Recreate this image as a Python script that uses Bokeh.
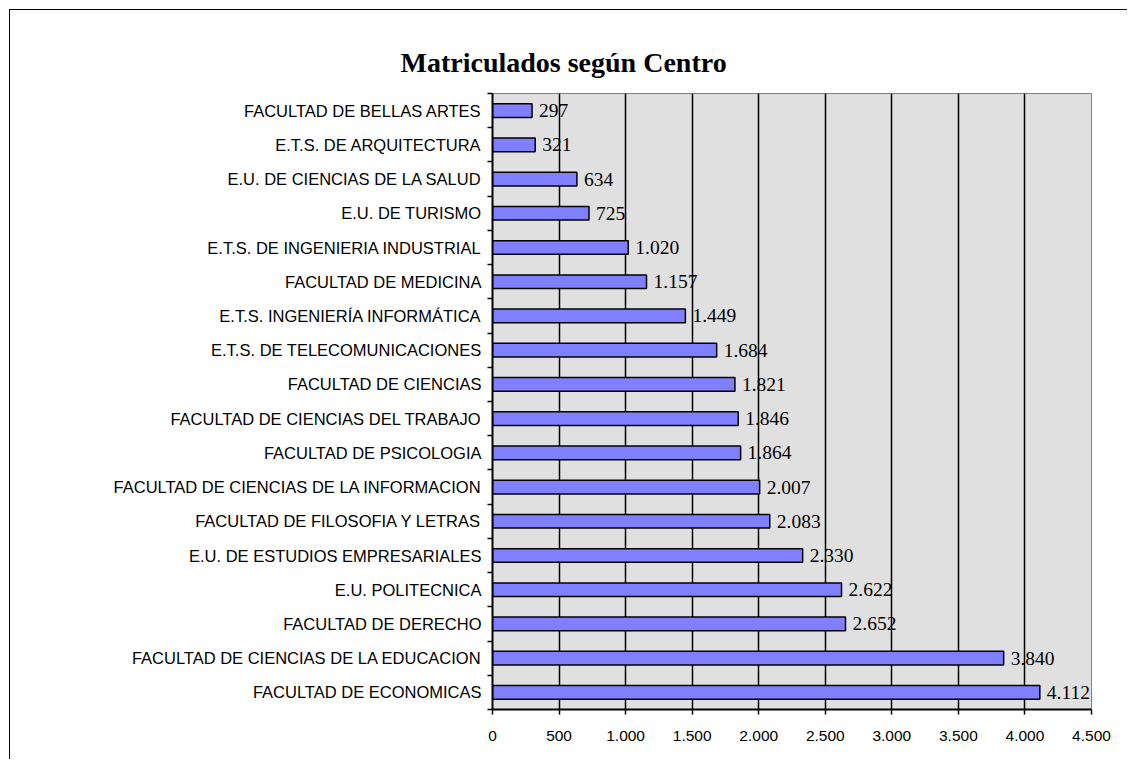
from bokeh.plotting import figure
from bokeh.models import ColumnDataSource, LabelSet, FixedTicker, Range1d
from bokeh.embed import file_html
from bokeh.resources import INLINE

# Data (top to bottom as shown in the chart)
centros = [
    "FACULTAD DE BELLAS ARTES",
    "E.T.S. DE ARQUITECTURA",
    "E.U. DE CIENCIAS DE LA SALUD",
    "E.U. DE TURISMO",
    "E.T.S. DE INGENIERIA INDUSTRIAL",
    "FACULTAD DE MEDICINA",
    "E.T.S. INGENIERÍA INFORMÁTICA",
    "E.T.S. DE TELECOMUNICACIONES",
    "FACULTAD DE CIENCIAS",
    "FACULTAD DE CIENCIAS DEL TRABAJO",
    "FACULTAD DE PSICOLOGIA",
    "FACULTAD DE CIENCIAS DE LA INFORMACION",
    "FACULTAD DE FILOSOFIA Y LETRAS",
    "E.U. DE ESTUDIOS EMPRESARIALES",
    "E.U. POLITECNICA",
    "FACULTAD DE DERECHO",
    "FACULTAD DE CIENCIAS DE LA EDUCACION",
    "FACULTAD DE ECONOMICAS",
]
matriculados = [297, 321, 634, 725, 1020, 1157, 1449, 1684, 1821, 1846,
                1864, 2007, 2083, 2330, 2622, 2652, 3840, 4112]
x_ticks = [0, 500, 1000, 1500, 2000, 2500, 3000, 3500, 4000, 4500]
titulo = "Matriculados según Centro"


def fmt(v):
    return f"{v:,}".replace(",", ".")


n = len(centros)
ypos = [n - i - 0.5 for i in range(n)]
src = ColumnDataSource(dict(y=ypos, v=matriculados,
                            lab=[fmt(v) for v in matriculados]))

p = figure(width=1118, height=750,
           x_range=Range1d(0, x_ticks[-1]), y_range=Range1d(0, n),
           output_backend="svg", toolbar_location=None,
           min_border_left=482, min_border_right=37,
           min_border_top=83, min_border_bottom=51,
           background_fill_color="#E0E0E0",
           border_fill_color="white",
           styles={"margin-left": "9px", "margin-top": "9px",
                   "border-left": "1px solid black",
                   "border-top": "1px solid black"})

p.outline_line_color = "#808080"
p.outline_line_width = 1

p.hbar(y="y", left=0, right="v", height=0.4, source=src,
       fill_color="#8080FF", line_color="black", line_width=1.5)

labels = LabelSet(x="v", y="y", text="lab", source=src, x_offset=7,
                  text_baseline="middle", text_align="left",
                  text_font="Liberation Serif", text_font_size="19.5px",
                  text_color="black")
p.add_layout(labels)

# X axis
p.xaxis.ticker = FixedTicker(ticks=x_ticks, minor_ticks=[])
p.xaxis.major_label_overrides = {t: fmt(t) for t in x_ticks}
p.xaxis.major_label_text_font = "Liberation Sans"
p.xaxis.major_label_text_font_size = "15.5px"
p.xaxis.major_label_text_color = "black"
p.xaxis.major_tick_out = 5
p.xaxis.major_tick_in = 0
p.xaxis.major_tick_line_color = "black"
p.xaxis.major_tick_line_width = 1.5
p.xaxis.major_label_standoff = 16
p.xaxis.axis_line_color = "black"
p.xaxis.axis_line_width = 2

# Y axis
p.yaxis.ticker = FixedTicker(ticks=ypos, minor_ticks=list(range(n + 1)))
p.yaxis.major_label_overrides = {y: c for y, c in zip(ypos, centros)}
p.yaxis.major_label_text_font = "Liberation Sans"
p.yaxis.major_label_text_font_size = "16.5px"
p.yaxis.major_label_text_color = "black"
p.yaxis.major_tick_out = 0
p.yaxis.major_tick_in = 0
p.yaxis.minor_tick_out = 5
p.yaxis.minor_tick_in = 0
p.yaxis.minor_tick_line_color = "black"
p.yaxis.minor_tick_line_width = 1.5
p.yaxis.major_label_standoff = 6
p.yaxis.axis_line_color = "black"
p.yaxis.axis_line_width = 2

# Grid
p.xgrid.grid_line_color = "black"
p.xgrid.grid_line_width = 1.5
p.ygrid.grid_line_color = None

# Title
p.title.text = titulo
p.title.text_font = "Liberation Serif"
p.title.text_font_size = "28px"
p.title.text_font_style = "bold"
p.title.text_color = "black"
p.title.align = "left"
p.title.offset = -92
p.title.standoff = 32

open("out.html", "w").write(file_html(p, INLINE))
